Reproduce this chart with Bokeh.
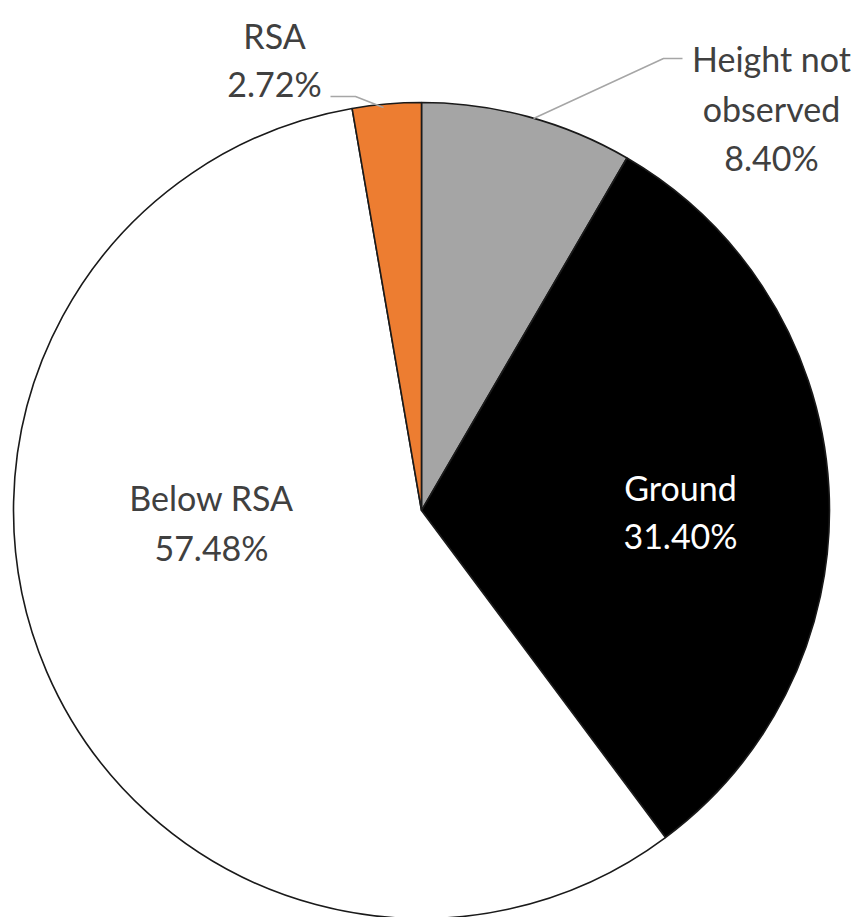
import math
from bokeh.plotting import figure
from bokeh.models import ColumnDataSource, Range1d
from bokeh.core.properties import value
from bokeh.embed import file_html
from bokeh.resources import INLINE

# ---- data ----
categories = ["Height not observed", "Ground", "Below RSA", "RSA"]
label_names = ["Height not\nobserved", "Ground", "Below RSA", "RSA"]
percentages = [8.40, 31.40, 57.48, 2.72]
slice_colors = ["#A5A5A5", "#000000", "#FFFFFF", "#ED7D31"]
label_colors = ["#404040", "#FFFFFF", "#404040", "#404040"]

# ---- layout (pixels, y from top) ----
W, H = 861, 917
CX, CY, R = 421, 510, 408
FONT = "Lato"
FS = "34px"
label_anchor = [(771, 58), (680, 487), (211, 497), (274, 35)]
line_gap = [49.5, 48, 50, 48]
leaders = [
    [(682, 58), (663, 58), (533, 118)],
    None,
    None,
    [(330, 96), (355, 96), (383, 107)],
]

def fy(y):
    return H - y

p = figure(width=W, height=H, output_backend="svg", toolbar_location=None,
           x_range=Range1d(0, W), y_range=Range1d(0, H), min_border=0)
p.axis.visible = False
p.grid.visible = False
p.outline_line_color = None
p.background_fill_color = "white"
p.border_fill_color = "white"

total = sum(percentages)
starts, ends = [], []
acc = 0.0
for v in percentages:
    a0 = math.pi / 2 - 2 * math.pi * acc / total
    acc += v
    a1 = math.pi / 2 - 2 * math.pi * acc / total
    starts.append(a0)
    ends.append(a1)

src = ColumnDataSource(dict(x=[CX] * len(categories), y=[fy(CY)] * len(categories),
                            start=starts, end=ends, color=slice_colors, name=categories))
p.wedge(x="x", y="y", radius=R, start_angle="start", end_angle="end",
        direction="clock", fill_color="color", line_color="#1a1a1a", line_width=1.6,
        source=src)

# leader lines
for pts in leaders:
    if pts:
        p.line([q[0] for q in pts], [fy(q[1]) for q in pts], line_color="#A6A6A6", line_width=1.5)

# labels
tx, ty, tt, tc = [], [], [], []
for name, v, (ax, ay), gap, col in zip(label_names, percentages, label_anchor, line_gap, label_colors):
    lines = (name + "\n" + f"{v:.2f}%").split("\n")
    for i, ln in enumerate(lines):
        tx.append(ax)
        ty.append(fy(ay + i * gap))
        tt.append(ln)
        tc.append(col)
p.text(x=tx, y=ty, text=tt, text_color=tc, text_align="center", text_baseline="alphabetic",
       text_font=value(FONT), text_font_size=FS)

open("out.html", "w").write(file_html(p, INLINE))
